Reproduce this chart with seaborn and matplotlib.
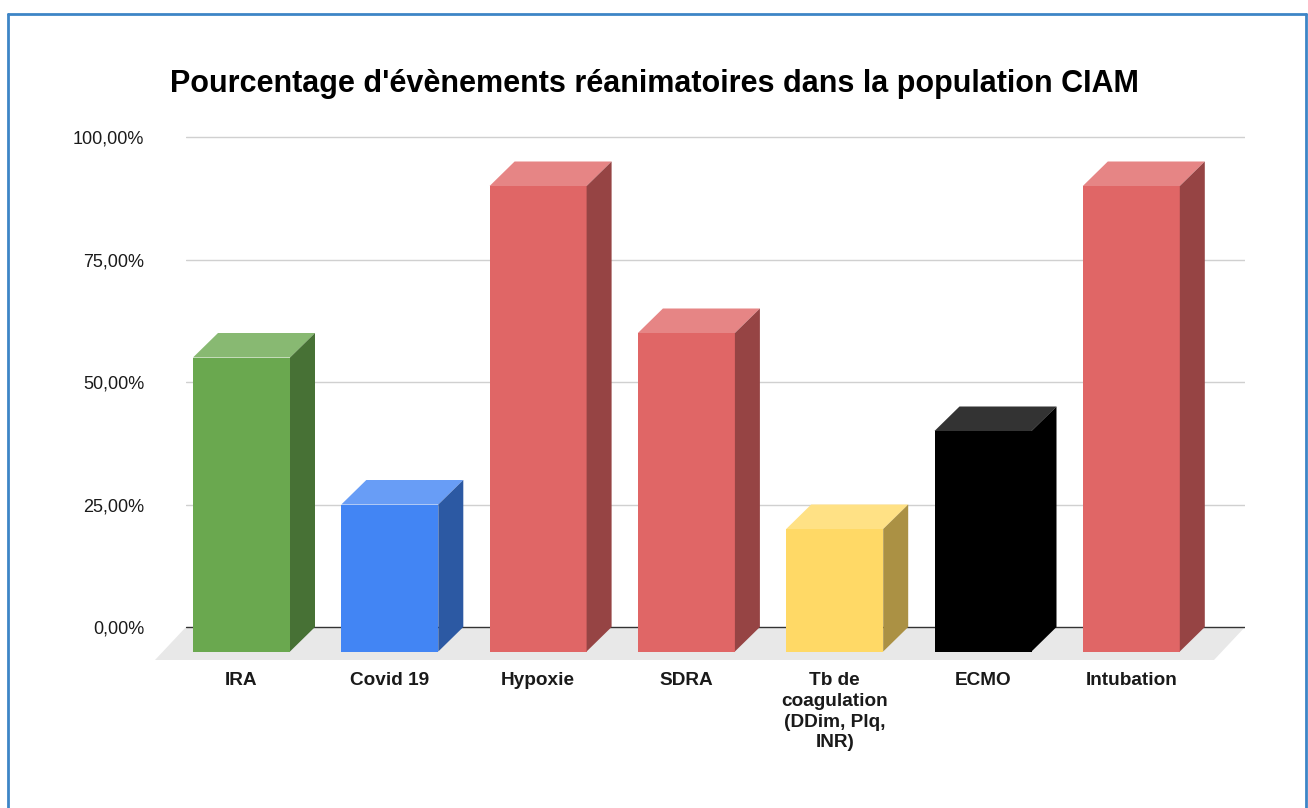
import matplotlib
matplotlib.use("Agg")
import matplotlib.pyplot as plt
import seaborn as sns
from matplotlib.patches import Polygon
from matplotlib.lines import Line2D
from matplotlib.colors import to_rgb

# ---- data ----
categories = ["IRA", "Covid 19", "Hypoxie", "SDRA",
              "Tb de\ncoagulation\n(DDim, Plq,\nINR)", "ECMO", "Intubation"]
values = [55, 25, 90, 60, 20, 40, 90]
front_colors = ["#6aa84f", "#4285f4", "#e06666", "#e06666",
                "#ffd966", "#000000", "#e06666"]
y_ticks = [0, 25, 50, 75, 100]
y_tick_labels = ["0,00%", "25,00%", "50,00%", "75,00%", "100,00%"]
title = "Pourcentage d'évènements réanimatoires dans la population CIAM"

sns.set_theme(style="white")
plt.rcParams["font.family"] = ["Liberation Sans", "DejaVu Sans"]

W, H = 1308, 808
fig = plt.figure(figsize=(W / 100, H / 100), dpi=100)

# ---- layout (pixels) ----
grid_left, grid_right = 186, 1245
y0_px, y100_px = 627, 137
px_per_pct = (y0_px - y100_px) / 100.0
slot_px = 148.3
first_center_px = 241.5
depth_x_px, depth_y_px = 25.0, 24.5
floor_dx_px, floor_dy_px = 31.0, 33.0

xmin = (grid_left - first_center_px) / slot_px
xmax = (grid_right - first_center_px) / slot_px
ymin, ymax = -8.0, 102.0
ax_bottom_px = y0_px - ymin * px_per_pct
ax_top_px = y0_px - ymax * px_per_pct
ax = fig.add_axes([grid_left / W, 1 - ax_bottom_px / H,
                   (grid_right - grid_left) / W,
                   (ax_bottom_px - ax_top_px) / H])

dx = depth_x_px / slot_px
dy = depth_y_px / px_per_pct

# front faces of the bars
sns.barplot(x=categories, y=[v + dy for v in values], hue=categories,
            palette=front_colors, saturation=1, width=97 / slot_px,
            linewidth=0, legend=False, ax=ax, zorder=3)
bars = list(ax.patches)
for p in bars:
    p.set_y(-dy)
    p.set_clip_on(False)


def shade(c, f):
    r, g, b = to_rgb(c)
    return (r * f, g * f, b * f)


def tint(c, f):
    r, g, b = to_rgb(c)
    return (r + (1 - r) * f, g + (1 - g) * f, b + (1 - b) * f)


# top and right faces
for p, v, c in zip(bars, values, front_colors):
    xl = p.get_x()
    xr = xl + p.get_width()
    top = Polygon([(xl, v), (xr, v), (xr + dx, v + dy), (xl + dx, v + dy)],
                  closed=True, facecolor=tint(c, 0.2), edgecolor="none",
                  zorder=3, clip_on=False)
    side = Polygon([(xr, -dy), (xr, v), (xr + dx, v + dy), (xr + dx, 0)],
                   closed=True, facecolor=shade(c, 0.67), edgecolor="none",
                   zorder=3, clip_on=False)
    ax.add_patch(top)
    ax.add_patch(side)

# floor
fdx = floor_dx_px / slot_px
fdy = floor_dy_px / px_per_pct
ax.add_patch(Polygon([(xmin, 0), (xmax, 0), (xmax - fdx, -fdy), (xmin - fdx, -fdy)],
                     closed=True, facecolor="#e8e8e8", edgecolor="none",
                     zorder=1, clip_on=False))

# gridlines on the back wall
for t in y_ticks:
    ax.axhline(t, color="#333333" if t == 0 else "#d0d0d0",
               lw=1.0, zorder=2 if t == 0 else 0.5)

ax.set_xlim(xmin, xmax)
ax.set_ylim(ymin, ymax)
ax.set_yticks(y_ticks)
ax.set_yticklabels(y_tick_labels)
for s in ax.spines.values():
    s.set_visible(False)
ax.tick_params(axis="y", length=0, pad=30, labelsize=13, labelcolor="#1a1a1a")
ax.tick_params(axis="x", length=0, pad=4, labelsize=13.7, labelcolor="#1a1a1a")
for lbl in ax.get_xticklabels():
    lbl.set_fontweight("bold")
    lbl.set_linespacing(1.3)
ax.set_xlabel("")
ax.set_ylabel("")

fig.text(0.5, 1 - 84 / H, title, ha="center", va="center",
         fontsize=22, fontweight="bold", color="#000000")

# frame around the chart
bc = "#3d85c6"
fig.add_artist(Line2D([8 / W, 8 / W], [0, 1 - 14 / H], color=bc, lw=2.0))
fig.add_artist(Line2D([8 / W, 1306 / W], [1 - 14 / H, 1 - 14 / H], color=bc, lw=2.0))
fig.add_artist(Line2D([1306 / W, 1306 / W], [0, 1 - 14 / H], color=bc, lw=2.0))

fig.savefig("out.png", dpi=100)
